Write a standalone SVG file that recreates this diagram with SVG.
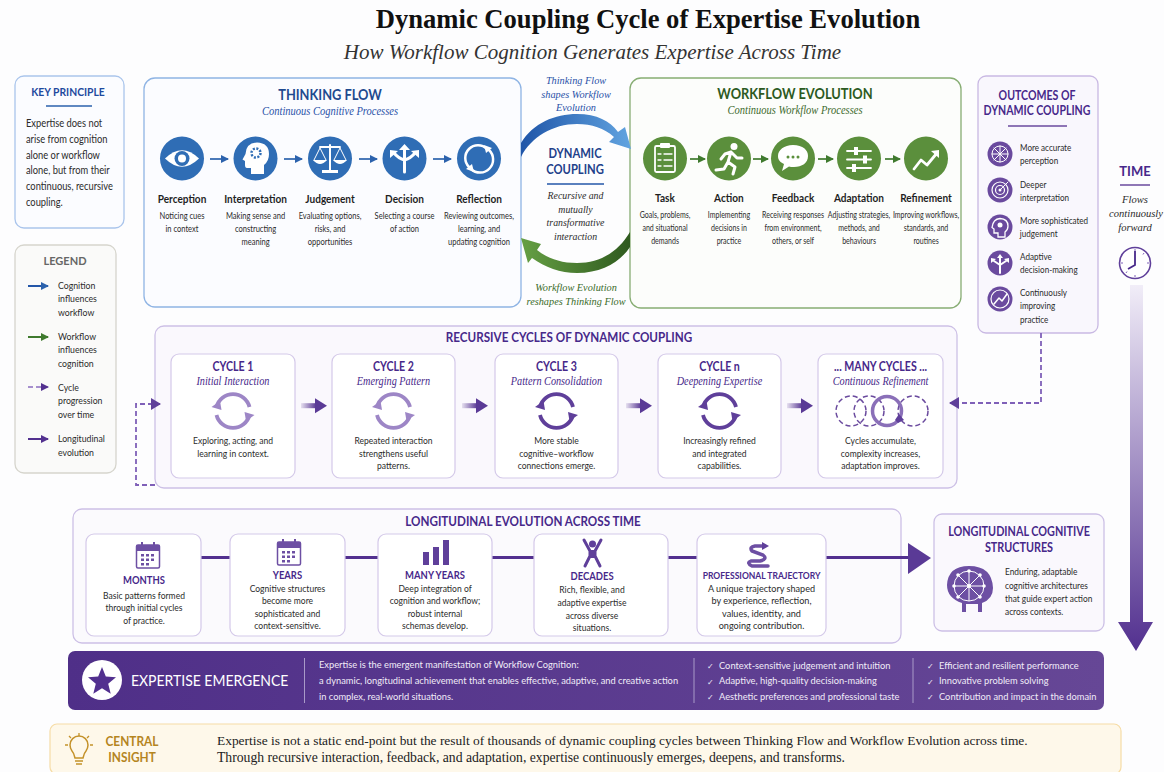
<svg xmlns="http://www.w3.org/2000/svg" width="1164" height="772" viewBox="0 0 1164 772">
<style>
text{font-family:"Lato","Open Sans","Liberation Sans",sans-serif;fill:#2b2b2b;text-anchor:middle;transform-box:fill-box;transform-origin:center}
.s{font-family:"Liberation Serif","Times New Roman",serif;font-style:italic}
.l{text-anchor:start;transform-origin:left center}
.title{font-family:"Liberation Serif",serif;font-weight:700;font-size:26.6px;fill:#111}
.subtitle{font-size:21px;fill:#333}
.h1{font-weight:700;font-size:15.5px;transform:scaleX(.83)}
.sub{font-size:11.8px;transform:scaleX(.89)}
.blue{fill:#1f4a8f}.lblue{fill:#2a52a8}.dgreen{fill:#2c5a22}.lgreen{fill:#3e6b2e}
.h{font-weight:700;fill:#47288a;font-size:12.3px}
.h85{transform:scaleX(.86)}.h95{transform:scaleX(.95)}
.step{font-weight:700;font-size:11.5px;fill:#1f1f1f;transform:scaleX(.875)}
.d{font-size:9px;transform:scaleX(.84)}
.d3{font-size:8.8px;transform:scaleX(.8)}
.key{font-size:10.6px;transform:scaleX(.88)}
.leg{font-size:9.3px;transform:scaleX(.94)}
.mid{font-size:11.3px;transform:scaleX(.91)}
.midb{fill:#2a52a8}.midg{fill:#3a6b2a}
.midt{font-size:11.3px;transform:scaleX(.87)}
.dc{font-size:12.5px;font-weight:700;fill:#22408a;transform:scaleX(.9)}
.o{font-size:9.2px;transform:scaleX(.88)}
.t{font-size:11px;transform:scaleX(.96)}
.cyc{font-weight:700;font-size:12.5px;fill:#47288a;transform:scaleX(.85)}
.cs{font-size:11.5px;fill:#47288a;transform:scaleX(.89)}
.cd{font-size:9.3px;transform:scaleX(.92)}
.lab{font-weight:700;font-size:11px;fill:#47288a;transform:scaleX(.86)}
.lab2{font-weight:700;font-size:10.3px;fill:#47288a;transform:scaleX(.83)}
.ld{font-size:9.3px;transform:scaleX(.92)}
.ld2{font-size:9.3px;transform:scaleX(.98)}
.e{font-size:9.5px;transform:scaleX(.88)}
.bar{fill:#f1ecf8;font-size:10.4px;transform:scaleX(.895)}
.ck{fill:#f1ecf8;font-size:8px}
.ins{font-weight:700;font-size:12.5px;fill:#b5851e;transform:scaleX(.95)}
.ser{font-family:"Liberation Serif",serif;fill:#222}
.w{fill:#fff}
.wl{fill:none;stroke:#fff;stroke-linecap:round;stroke-linejoin:round}
.card{fill:#fff;stroke:#d4c9e9;stroke-width:1.2}
.panel{fill:#faf8fd;stroke:#cdc0e6;stroke-width:1.3}
.oi{fill:#6a4a9e}
.pf{fill:#5f3f9a}
.c-b{fill:#2f6db5}.c-g{fill:#5b8f3c}
.arb{stroke:#2b62ad;stroke-width:1.7;marker-end:url(#mB)}
.arg{stroke:#3f7a2e;stroke-width:1.7;marker-end:url(#mG)}
.dash{fill:none;stroke:#7f60b8;stroke-width:1.8;stroke-dasharray:5 3;marker-end:url(#mD)}
.lng{fill:none;stroke:#52308f;stroke-width:3}
</style>
<defs>
<linearGradient id="gBlue" x1="0" x2="1" y1="0" y2="0"><stop offset="0" stop-color="#1f55a8"/><stop offset="1" stop-color="#62a4e0"/></linearGradient>
<linearGradient id="gGreen" x1="0" x2="1" y1="0" y2="0"><stop offset="0" stop-color="#66a044"/><stop offset="1" stop-color="#2f5a1f"/></linearGradient>
<linearGradient id="gTime" x1="0" x2="0" y1="0" y2="1"><stop offset="0" stop-color="#f1edf8"/><stop offset="1" stop-color="#52308f"/></linearGradient>
<linearGradient id="gStep" x1="0" x2="1" y1="0" y2="0"><stop offset="0" stop-color="#52308f" stop-opacity=".12"/><stop offset="1" stop-color="#52308f"/></linearGradient>
<linearGradient id="gBar" x1="0" x2="1" y1="0" y2="0"><stop offset="0" stop-color="#4f2f88"/><stop offset="1" stop-color="#664796"/></linearGradient>
<marker id="mB" markerUnits="userSpaceOnUse" markerWidth="8" markerHeight="8" refX="7" refY="4" orient="auto"><path d="M0 0L8 4L0 8Z" fill="#2b62ad"/></marker>
<marker id="mG" markerUnits="userSpaceOnUse" markerWidth="8" markerHeight="8" refX="7" refY="4" orient="auto"><path d="M0 0L8 4L0 8Z" fill="#3f7a2e"/></marker>
<marker id="mP" markerUnits="userSpaceOnUse" markerWidth="8" markerHeight="8" refX="7" refY="4" orient="auto"><path d="M0 0L8 4L0 8Z" fill="#52308f"/></marker>
<marker id="mD" markerUnits="userSpaceOnUse" markerWidth="10" markerHeight="12" refX="9" refY="6" orient="auto"><path d="M0 0L10 6L0 12Z" fill="#5f3f9a"/></marker>
<g id="step"><rect x="0" y="-2.5" width="16" height="5" fill="url(#gStep)"/><path d="M14 -7.500L26 0L14 7.500Z" fill="#5a3a96"/></g>
<g id="cy"><path d="M-16.500 -4A17 17 0 0 1 16.500 -4" fill="none" stroke="currentColor" stroke-width="3.800"/><path d="M16.500 4A17 17 0 0 1 -16.500 4" fill="none" stroke="currentColor" stroke-width="3.800"/><path d="M-21.500 -4L-13 -10L-11.500 -1Z" fill="currentColor"/><path d="M21.500 4L13 10L11.500 1Z" fill="currentColor"/></g>
<g id="cal"><rect x="-11.500" y="-10" width="23" height="23" rx="1.500" fill="#fff" stroke="#6d4fa3" stroke-width="1.500"/><rect x="-11.500" y="-10" width="23" height="6" fill="#6d4fa3"/><path d="M-6 -13v5M6 -13v5" stroke="#6d4fa3" stroke-width="2"/><path d="M-7 -1h3v2.500h-3zM-2 -1h3v2.500h-3zM3 -1h3v2.500h-3zM-7 3.500h3v2.500h-3zM-2 3.500h3v2.500h-3zM3 3.500h3v2.500h-3zM-7 8h3v2.500h-3zM-2 8h3v2.500h-3z" fill="#6d4fa3"/></g>
</defs>
<rect width="1164" height="772" fill="#fdfdfe"/>

<g id="heading">
<text class="title" x="648" y="28">Dynamic Coupling Cycle of Expertise Evolution</text>
<text class="s subtitle" x="592.500" y="59">How Workflow Cognition Generates Expertise Across Time</text>
</g>

<g id="key-principle">
<rect x="15" y="76" width="109" height="152" rx="9" fill="#fbfcff" stroke="#aac5ec" stroke-width="1.300"/>
<text x="68" y="96" font-size="11.500" font-weight="700" style="fill:#1f4a9e;transform:scaleX(.9)">KEY PRINCIPLE</text>
<line x1="46" x2="92" y1="106" y2="106" stroke="#2b62ad" stroke-width="1.500"/>
<text class="key l" x="26" y="127">Expertise does not</text><text class="key l" x="26" y="143">arise from cognition</text><text class="key l" x="26" y="159">alone or workflow</text><text class="key l" x="26" y="174">alone, but from their</text><text class="key l" x="26" y="190">continuous, recursive</text><text class="key l" x="26" y="206">coupling.</text>
</g>

<g id="legend">
<rect x="15" y="245" width="101" height="228" rx="9" fill="#fafaf9" stroke="#d6d5cd" stroke-width="1.300"/>
<text x="65" y="265" font-size="11" font-weight="700" style="fill:#666">LEGEND</text>
<line x1="28" x2="48" y1="286" y2="286" stroke="#2356a8" stroke-width="2" marker-end="url(#mB)"/>
<line x1="28" x2="48" y1="337" y2="337" stroke="#3f7a2e" stroke-width="2" marker-end="url(#mG)"/>
<line x1="28" x2="48" y1="387" y2="387" stroke="#8a6cc0" stroke-width="1.500" stroke-dasharray="5 3" marker-end="url(#mP)"/>
<line x1="28" x2="48" y1="439" y2="439" stroke="#52308f" stroke-width="2" marker-end="url(#mP)"/>
<text class="leg l" x="58" y="289">Cognition</text><text class="leg l" x="58" y="302">influences</text><text class="leg l" x="58" y="316">workflow</text><text class="leg l" x="58" y="340">Workflow</text><text class="leg l" x="58" y="353">influences</text><text class="leg l" x="58" y="367">cognition</text><text class="leg l" x="58" y="391">Cycle</text><text class="leg l" x="58" y="404">progression</text><text class="leg l" x="58" y="418">over time</text><text class="leg l" x="58" y="442">Longitudinal</text><text class="leg l" x="58" y="456">evolution</text>
</g>

<g id="thinking-flow-panel">
<rect x="144" y="78" width="377" height="229" rx="11" fill="#fbfcff" stroke="#8fb4e4" stroke-width="1.300"/>
<text class="h1 blue" x="330" y="100">THINKING FLOW</text>
<text class="s sub lblue" x="330" y="115">Continuous Cognitive Processes</text>
</g>

<g id="perception"><circle class="c-b" cx="182" cy="158.500" r="22"/>
<path d="M165 158.500Q182 142 199 158.500Q182 175 165 158.500Z" class="w"/><circle class="c-b" cx="182" cy="158.500" r="7.500"/><circle cx="182" cy="158.500" r="4" class="w"/>
<text class="step" x="182" y="203">Perception</text><text class="d" x="182" y="219">Noticing cues</text><text class="d" x="182" y="232">in context</text></g>

<g id="interpretation"><circle class="c-b" cx="255.500" cy="158.500" r="22"/>
<path d="M251 174V168H247Q245 168 245 165V161L242.500 159.500L245.500 154Q246 143 257 142.500Q269 143 269 154Q269 161 264 165V174Z" class="w"/><circle cx="256" cy="153" r="4.500" fill="none" stroke="#2f6db5" stroke-width="2.500" stroke-dasharray="2 1.500"/>
<text class="step" x="255.500" y="203">Interpretation</text><text class="d" x="255.500" y="219">Making sense and</text><text class="d" x="255.500" y="232">constructing</text><text class="d" x="255.500" y="245">meaning</text></g>

<g id="judgement"><circle class="c-b" cx="330" cy="158.500" r="22"/>
<path d="M330 145V170" class="wl" stroke-width="2"/><path d="M320 147H340" class="wl" stroke-width="1.800"/><path d="M320 148L314 160M320 148L326 160M340 148L334 160M340 148L346 160" class="wl" stroke-width="1"/><path d="M313 160H327Q320 168 313 160ZM333 160H347Q340 168 333 160Z" class="w"/><rect x="322" y="170" width="16" height="3" class="w"/>
<text class="step" x="330" y="203">Judgement</text><text class="d" x="330" y="219">Evaluating options,</text><text class="d" x="330" y="232">risks, and</text><text class="d" x="330" y="245">opportunities</text></g>

<g id="decision"><circle class="c-b" cx="404.500" cy="158.500" r="22"/>
<path d="M404.500 172V148M404.500 160Q398 158 394 153M404.500 160Q411 158 415 153" class="wl" stroke-width="3"/><path d="M399 150L404.500 144L410 150ZM390 158L390 150L398 151ZM419 158L419 150L411 151Z" class="w"/>
<text class="step" x="404.500" y="203">Decision</text><text class="d" x="404.500" y="219">Selecting a course</text><text class="d" x="404.500" y="232">of action</text></g>

<g id="reflection"><circle class="c-b" cx="479" cy="158.500" r="22"/>
<path d="M469 167A12.500 12.500 0 0 1 487 149M489 150A12.500 12.500 0 0 1 471 169" class="wl" stroke-width="2.500"/><path d="M484 145L492 148L486 153ZM474 172L466 169L472 164Z" class="w"/>
<text class="step" x="479" y="203">Reflection</text><text class="d" x="479" y="219">Reviewing outcomes,</text><text class="d" x="479" y="232">learning, and</text><text class="d" x="479" y="245">updating cognition</text></g>

<g id="workflow-evolution-panel">
<rect x="630" y="78" width="331" height="230" rx="11" fill="#fcfdfb" stroke="#87ad73" stroke-width="1.300"/>
<text class="h1 dgreen" x="795" y="99">WORKFLOW EVOLUTION</text>
<text class="s sub lgreen" x="795" y="114">Continuous Workflow Processes</text>
</g>

<g id="task"><circle class="c-g" cx="665" cy="158.500" r="22"/>
<rect x="655" y="146" width="20" height="26" rx="1.500" fill="none" stroke="#fff" stroke-width="1.800"/><rect x="660" y="143" width="10" height="5" rx="1" class="w"/><path d="M658 154h3M664 154h8M658 160h3M664 160h8M658 166h3M664 166h8" class="wl" stroke-width="1.300"/>
<text class="step" x="665" y="202">Task</text><text class="d3" x="665" y="218">Goals, problems,</text><text class="d3" x="665" y="231">and situational</text><text class="d3" x="665" y="244">demands</text></g>

<g id="action"><circle class="c-g" cx="729" cy="158.500" r="22"/>
<circle cx="734" cy="146.500" r="3.500" class="w"/><path d="M731 152L725 154L721 159M731 152L728 162L735 167L733 174M728 162L724 169L716 170M731 152L737 158L742 158" class="wl" stroke-width="3"/>
<text class="step" x="729" y="202">Action</text><text class="d3" x="729" y="218">Implementing</text><text class="d3" x="729" y="231">decisions in</text><text class="d3" x="729" y="244">practice</text></g>

<g id="feedback"><circle class="c-g" cx="793" cy="158.500" r="22"/>
<path d="M793 145C803 145 808 150 808 156C808 163 802 167 794 167C792 167 790 167 789 166.500L782 171L784 164C780 162 778 160 778 156C778 150 784 145 793 145Z" class="w"/><circle cx="788" cy="157" r="1.500" class="c-g"/><circle cx="793" cy="157" r="1.500" class="c-g"/><circle cx="798" cy="157" r="1.500" class="c-g"/>
<text class="step" x="793" y="202">Feedback</text><text class="d3" x="793" y="218">Receiving responses</text><text class="d3" x="793" y="231">from environment,</text><text class="d3" x="793" y="244">others, or self</text></g>

<g id="adaptation"><circle class="c-g" cx="859" cy="158.500" r="22"/>
<path d="M847 151H871M847 159.500H871M847 168H871" class="wl" stroke-width="1.800"/><path d="M854 147h4v8h-4zM863 155.500h4v8h-4zM852 164h4v8h-4z" class="w"/>
<text class="step" x="859" y="202">Adaptation</text><text class="d3" x="859" y="218">Adjusting strategies,</text><text class="d3" x="859" y="231">methods, and</text><text class="d3" x="859" y="244">behaviours</text></g>

<g id="refinement"><circle class="c-g" cx="926" cy="158.500" r="22"/>
<path d="M914 169L921 160L927 165L937 153" class="wl" stroke-width="2.800"/><path d="M931 151L939 150L939 158Z" class="w"/>
<text class="step" x="926" y="202">Refinement</text><text class="d3" x="926" y="218">Improving workflows,</text><text class="d3" x="926" y="231">standards, and</text><text class="d3" x="926" y="244">routines</text></g>

<g id="dynamic-coupling">
<text class="s mid midb" x="576" y="84">Thinking Flow</text>
<text class="s mid midb" x="576" y="98">shapes Workflow</text>
<text class="s mid midb" x="576" y="111">Evolution</text>
<text class="dc" x="575" y="158">DYNAMIC</text>
<text class="dc" x="575" y="174">COUPLING</text>
<line x1="547" x2="604" y1="184" y2="184" stroke="#2356a8" stroke-width="1.500"/>
<text class="s midt" x="575.500" y="199">Recursive and</text>
<text class="s midt" x="575.500" y="213">mutually</text>
<text class="s midt" x="575.500" y="226">transformative</text>
<text class="s midt" x="575.500" y="240">interaction</text>
<text class="s mid midg" x="576" y="291">Workflow Evolution</text>
<text class="s mid midg" x="576" y="305">reshapes Thinking Flow</text>
</g>

<g id="outcomes">
<rect x="978" y="76" width="120" height="257" rx="8" fill="#f9f7fd" stroke="#c9b9e3" stroke-width="1.300"/>
<text class="h h85" x="1037" y="100">OUTCOMES OF</text>
<text class="h h85" x="1037" y="115">DYNAMIC COUPLING</text>
<line x1="1008" x2="1067" y1="126" y2="126" stroke="#6a4a9e" stroke-width="1.500"/>
<circle class="oi" cx="1000" cy="154" r="12.500"/><path d="M1000 146V162M992 154H1008M994 148L1006 160M1006 148L994 160" class="wl" stroke-width="1"/><circle cx="1000" cy="154" r="8" fill="none" stroke="#fff" stroke-width="1"/>
<circle class="oi" cx="1000" cy="190" r="12.500"/><circle cx="1000" cy="190" r="8" fill="none" stroke="#fff" stroke-width="1.200"/><circle cx="1000" cy="190" r="4.500" fill="none" stroke="#fff" stroke-width="1.200"/><circle cx="1000" cy="190" r="1.500" class="w"/><path d="M1000 190L1008 182" class="wl"/>
<circle class="oi" cx="1000" cy="227" r="12.500"/><path d="M998 237V233H994V229L992 227.500Q993 219 1000 218.500Q1008 219 1008 226Q1008 230 1005 232V237Z" fill="none" stroke="#fff" stroke-width="1.300"/><circle cx="1000" cy="225" r="2.500" class="w"/>
<circle class="oi" cx="1000" cy="263" r="12.500"/><path d="M1000 273V257M1000 265L994 261M1000 265L1006 261" class="wl" stroke-width="2"/><path d="M997 258L1000 254L1003 258ZM991 263L991 258L996 259ZM1009 263L1009 258L1004 259Z" class="w"/>
<circle class="oi" cx="1000" cy="299" r="12.500"/><circle cx="1000" cy="299" r="9" fill="none" stroke="#fff" stroke-width="1.200"/><path d="M994 304L999 298L1002 301L1007 294" class="wl" stroke-width="1.500"/>
<text class="o l" x="1020" y="151">More accurate</text><text class="o l" x="1020" y="164">perception</text><text class="o l" x="1020" y="188">Deeper</text><text class="o l" x="1020" y="201">interpretation</text><text class="o l" x="1020" y="224">More sophisticated</text><text class="o l" x="1020" y="237">judgement</text><text class="o l" x="1020" y="260">Adaptive</text><text class="o l" x="1020" y="273">decision-making</text><text class="o l" x="1020" y="296">Continuously</text><text class="o l" x="1020" y="309">improving</text><text class="o l" x="1020" y="323">practice</text>
</g>

<g id="time">
<text class="h" x="1135" y="176" style="font-size:13px">TIME</text>
<line x1="1120" x2="1150" y1="185" y2="185" stroke="#6a4a9e" stroke-width="1.500"/>
<text class="s t" x="1135" y="203">Flows</text>
<text class="s t" x="1136" y="217">continuously</text>
<text class="s t" x="1135" y="231">forward</text>
<circle cx="1135" cy="263" r="15.500" fill="#fff" stroke="#5f3f9a" stroke-width="1.600"/><path d="M1135 251V265L1128 269" fill="none" stroke="#47288a" stroke-width="1.800"/><path d="M1135 249v2M1149 263h-2M1135 277v-2M1121 263h2M1144 253l-1 1.500M1126 273l1-1.500" stroke="#7f60b8" stroke-width="1"/>
<path d="M1130 285H1143V622H1153L1136 651L1118 622H1130Z" fill="url(#gTime)"/>
</g>

<g id="recursive-cycles-panel">
<rect x="155" y="326" width="802" height="162" rx="9" class="panel"/>
<text class="h h95" x="569" y="342">RECURSIVE CYCLES OF DYNAMIC COUPLING</text>
</g>

<g id="longitudinal-panel">
<rect x="73" y="509" width="828" height="134" rx="9" class="panel" style="fill:#fbfafd"/>
<text class="h h95" x="523" y="526">LONGITUDINAL EVOLUTION ACROSS TIME</text>
</g>

<g id="connectors">
<path class="dash" d="M155 485H136V404H160"/>
<path class="dash" d="M1041 333V403H950"/>
<use href="#step" x="301" y="405.700"/><use href="#step" x="462" y="405.700"/><use href="#step" x="626" y="405.700"/><use href="#step" x="787" y="405.700"/>
<path class="lng" d="M201 557.500H230M345 557.500H378M492 557.500H534M668 557.500H697M826 557.500H910"/>
<path d="M908 543L931 558L908 574Z" fill="#5a3a96"/>
<line class="arb" x1="210" x2="228" y1="159" y2="159"/><line class="arb" x1="284" x2="302" y1="159" y2="159"/><line class="arb" x1="359" x2="377" y1="159" y2="159"/><line class="arb" x1="433" x2="451" y1="159" y2="159"/>
<line class="arg" x1="690" x2="705" y1="159" y2="159"/><line class="arg" x1="753" x2="768" y1="159" y2="159"/><line class="arg" x1="818" x2="833" y1="159" y2="159"/><line class="arg" x1="885" x2="900" y1="159" y2="159"/>
<path d="M521 143C533 123 555 114 577 114C597 114 610 121 618 132L625 127L631 149L609 142L614 137C604 128 592 124 577 124C553 124 531 137 521 157Z" fill="url(#gBlue)"/>
<path d="M630 232C618 252 600 263 577 263C560 263 547 258 537 250L541 244L521 238L528 263L532 258C545 267 560 273 577 273C602 273 620 262 630 247Z" fill="url(#gGreen)"/>
</g>

<g id="cycle-1"><rect x="171" y="354" width="124" height="124" rx="8" class="card"/>
<text class="cyc" x="233" y="371">CYCLE 1</text><text class="s cs" x="233" y="385">Initial Interaction</text>
<use href="#cy" x="233" y="411" style="color:#9d86c6"/>
<text class="cd" x="233" y="444">Exploring, acting, and</text><text class="cd" x="233" y="457">learning in context.</text></g>

<g id="cycle-2"><rect x="332" y="354" width="123" height="124" rx="8" class="card"/>
<text class="cyc" x="393.500" y="371">CYCLE 2</text><text class="s cs" x="393.500" y="385">Emerging Pattern</text>
<use href="#cy" x="393.500" y="411" style="color:#9d86c6"/>
<text class="cd" x="393.500" y="444">Repeated interaction</text><text class="cd" x="393.500" y="457">strengthens useful</text><text class="cd" x="393.500" y="469">patterns.</text></g>

<g id="cycle-3"><rect x="495" y="354" width="123" height="124" rx="8" class="card"/>
<text class="cyc" x="556.500" y="371">CYCLE 3</text><text class="s cs" x="556.500" y="385">Pattern Consolidation</text>
<use href="#cy" x="556.500" y="411" style="color:#5f3f9a"/>
<text class="cd" x="556.500" y="444">More stable</text><text class="cd" x="556.500" y="457">cognitive–workflow</text><text class="cd" x="556.500" y="469">connections emerge.</text></g>

<g id="cycle-n"><rect x="658" y="354" width="123" height="124" rx="8" class="card"/>
<text class="cyc" x="719.500" y="371">CYCLE n</text><text class="s cs" x="719.500" y="385">Deepening Expertise</text>
<use href="#cy" x="719.500" y="411" style="color:#5f3f9a"/>
<text class="cd" x="719.500" y="444">Increasingly refined</text><text class="cd" x="719.500" y="457">and integrated</text><text class="cd" x="719.500" y="469">capabilities.</text></g>

<g id="many-cycles"><rect x="818" y="354" width="125" height="124" rx="8" class="card"/>
<text class="cyc" x="880.500" y="371">... MANY CYCLES ...</text><text class="s cs" x="880.500" y="385">Continuous Refinement</text>
<g fill="none" stroke="#6a4a9e" stroke-width="1.500" stroke-dasharray="5 3"><circle cx="851" cy="411" r="15"/><circle cx="869" cy="411" r="15"/><circle cx="913" cy="411" r="15"/></g>
<circle cx="887" cy="411" r="14.500" fill="none" stroke="#8a6fb8" stroke-width="3.500"/><path d="M899 414L904 420L898 423L895 420Z" class="pf"/>
<text class="cd" x="880.500" y="444">Cycles accumulate,</text><text class="cd" x="880.500" y="457">complexity increases,</text><text class="cd" x="880.500" y="469">adaptation improves.</text></g>

<g id="months"><rect x="86" y="534" width="115" height="102" rx="8" class="card"/>
<use href="#cal" x="148" y="555"/>
<text class="lab" x="144" y="584">MONTHS</text><text class="ld" x="144" y="599">Basic patterns formed</text><text class="ld" x="144" y="611">through initial cycles</text><text class="ld" x="144" y="624">of practice.</text></g>

<g id="years"><rect x="230" y="534" width="115" height="102" rx="8" class="card"/>
<use href="#cal" x="289" y="552"/>
<text class="lab" x="287.500" y="579">YEARS</text><text class="ld" x="287.500" y="592">Cognitive structures</text><text class="ld" x="287.500" y="604.500">become more</text><text class="ld" x="287.500" y="617">sophisticated and</text><text class="ld" x="287.500" y="629">context-sensitive.</text></g>

<g id="many-years"><rect x="378" y="534" width="114" height="102" rx="8" class="card"/>
<path d="M423 552h6v13h-6zM433 547h6v18h-6zM443 540h6v25h-6z" class="pf"/>
<text class="lab" x="435" y="579">MANY YEARS</text><text class="ld" x="435" y="592">Deep integration of</text><text class="ld" x="435" y="604.500">cognition and workflow;</text><text class="ld" x="435" y="617">robust internal</text><text class="ld" x="435" y="629">schemas develop.</text></g>

<g id="decades"><rect x="534" y="534" width="134" height="102" rx="8" class="card"/>
<circle cx="592.500" cy="544" r="3.500" class="pf"/><path d="M584 540L590 551V556L585 566M601 540L595 551V556L600 566" fill="none" stroke="#5f3f9a" stroke-width="3" stroke-linecap="round" stroke-linejoin="round"/><path d="M590 550H595V558H590Z" class="pf"/>
<text class="lab" x="592" y="580">DECADES</text><text class="ld" x="592" y="593">Rich, flexible, and</text><text class="ld" x="592" y="606">adaptive expertise</text><text class="ld" x="592" y="619">across diverse</text><text class="ld" x="592" y="631">situations.</text></g>

<g id="professional-trajectory"><rect x="697" y="534" width="129" height="102" rx="8" class="card"/>
<path d="M764 546H755Q749 547 752 551L763 555Q768 559 760 561L751 561Q746 563 752 566H768" fill="none" stroke="#6d4fa3" stroke-width="3.500" stroke-linecap="round"/>
<path d="M762 542L769 546L762 550Z" class="pf"/>
<text class="lab2" x="761.500" y="579">PROFESSIONAL TRAJECTORY</text><text class="ld2" x="761.500" y="592">A unique trajectory shaped</text><text class="ld2" x="761.500" y="604.500">by experience, reflection,</text><text class="ld2" x="761.500" y="617">values, identity, and</text><text class="ld2" x="761.500" y="629">ongoing contribution.</text></g>

<g id="longitudinal-structures"><rect x="934" y="514" width="170" height="117" rx="8" class="panel"/>
<text class="h" x="1019" y="536" style="transform:scaleX(.88)">LONGITUDINAL COGNITIVE</text><text class="h" x="1019" y="552" style="transform:scaleX(.88)">STRUCTURES</text>
<path d="M962 612V603Q947 598 947 585Q948 566 969 566Q992 566 993 588Q993 599 982 603V612H978V604H966V612Z" fill="#6d4fa3"/>
<g stroke="#fff" stroke-width="1" fill="none"><circle cx="969" cy="586" r="15"/><path d="M969 571V601M954 586H984M958 575L980 597M980 575L958 597"/></g>
<g class="w"><circle cx="969" cy="586" r="2"/><circle cx="969" cy="571" r="1.800"/><circle cx="954" cy="586" r="1.800"/><circle cx="984" cy="586" r="1.800"/><circle cx="958" cy="575" r="1.800"/><circle cx="980" cy="575" r="1.800"/><circle cx="958" cy="597" r="1.800"/><circle cx="980" cy="597" r="1.800"/></g>
<text class="e l" x="1005" y="575">Enduring, adaptable</text><text class="e l" x="1005" y="589">cognitive architectures</text><text class="e l" x="1005" y="602">that guide expert action</text><text class="e l" x="1005" y="615">across contexts.</text></g>

<g id="expertise-emergence"><rect x="68" y="651" width="1036" height="59" rx="7" fill="url(#gBar)"/>
<circle cx="102" cy="680" r="20" fill="#fff"/><path d="M102 667L105.800 676.500L116 677.200L108.200 683.700L110.700 693.700L102 688.200L93.300 693.700L95.800 683.700L88 677.200L98.200 676.500Z" fill="#52308f"/>
<text class="l" x="131" y="686" font-size="14.800" style="fill:#fff;transform:scaleX(.945)">EXPERTISE EMERGENCE</text>
<path d="M304.500 658V703M694 658V703M913 658V703" stroke="#a99ac8" stroke-width="1"/>
<text class="bar l" x="319" y="668">Expertise is the emergent manifestation of Workflow Cognition:</text>
<text class="bar l" x="319" y="684">a dynamic, longitudinal achievement that enables effective, adaptive, and creative action</text>
<text class="bar l" x="319" y="700">in complex, real-world situations.</text>
<text class="ck l" x="707" y="669">✓</text><text class="bar l" x="719" y="669">Context-sensitive judgement and intuition</text><text class="ck l" x="707" y="684.500">✓</text><text class="bar l" x="719" y="684.500">Adaptive, high-quality decision-making</text><text class="ck l" x="707" y="700">✓</text><text class="bar l" x="719" y="700">Aesthetic preferences and professional taste</text>
<text class="ck l" x="927" y="669">✓</text><text class="bar l" x="939" y="669">Efficient and resilient performance</text><text class="ck l" x="927" y="684.500">✓</text><text class="bar l" x="939" y="684.500">Innovative problem solving</text><text class="ck l" x="927" y="700">✓</text><text class="bar l" x="939" y="700">Contribution and impact in the domain</text></g>

<g id="central-insight"><rect x="50" y="724" width="1071" height="50" rx="7" fill="#fef8ea" stroke="#f6dca6" stroke-width="1.200"/>
<path d="M75 758Q74 753 72 751Q70 748 70 745A9 9 0 0 1 88 745Q88 748 86 751Q84 753 83 758ZM75 761H83M76 764H82" fill="none" stroke="#c4922a" stroke-width="1.500"/>
<path d="M79 733v3M69 736l2 2M89 736l-2 2M65 745h3M90 745h3" stroke="#c4922a" stroke-width="1.300"/>
<text class="ins" x="132" y="746">CENTRAL</text><text class="ins" x="132" y="762">INSIGHT</text>
<text class="ser l" x="217" y="745" font-size="13.430">Expertise is not a static end-point but the result of thousands of dynamic coupling cycles between Thinking Flow and Workflow Evolution across time.</text><text class="ser l" x="217" y="762" font-size="13.700">Through recursive interaction, feedback, and adaptation, expertise continuously emerges, deepens, and transforms.</text></g>
</svg>
